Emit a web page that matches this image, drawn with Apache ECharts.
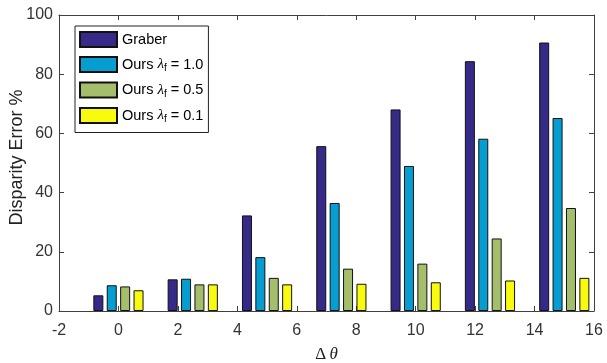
<!DOCTYPE html>
<html>
<head>
<meta charset="utf-8">
<script src="https://cdn.jsdelivr.net/npm/echarts@6/dist/echarts.min.js"></script>
<style>
html,body{margin:0;padding:0;background:#fff;}
#chart{width:607px;height:363px;}
</style>
</head>
<body>
<div id="chart"></div>
<script>
// ---- data ----
var deltaTheta = [0, 2.5, 5, 7.5, 10, 12.5, 15];
var seriesNames = ['Graber', 'Ours λf = 1.0', 'Ours λf = 0.5', 'Ours λf = 0.1'];
var graber = [5.3, 10.7, 32.3, 55.7, 68.1, 84.4, 90.7];
var ours10 = [8.7, 10.9, 18.2, 36.5, 49.0, 58.2, 65.2];
var ours05 = [8.3, 9.0, 11.2, 14.3, 16.0, 24.5, 34.8];
var ours01 = [7.0, 9.0, 9.0, 9.2, 9.7, 10.3, 11.2];
var xTicks = [-2, 0, 2, 4, 6, 8, 10, 12, 14, 16];
var yTicks = [0, 20, 40, 60, 80, 100];

var colors = ['#352a87', '#069dd1', '#a5be6b', '#f9fb0e'];
var values = [graber, ours10, ours05, ours01];

var chart = echarts.init(document.getElementById('chart'), null, {renderer: 'canvas'});

var axisColor = '#404040';
var labelColor = '#333333';
var font = 'Liberation Sans, Arial, Helvetica, sans-serif';

function pairs(v) { return deltaTheta.map(function (x, i) { return [x, v[i]]; }); }

var series = values.map(function (v, k) {
  return {
    name: seriesNames[k],
    type: 'bar',
    xAxisIndex: 0,
    yAxisIndex: 0,
    barWidth: 10,
    barGap: '34%',
    itemStyle: { color: colors[k], borderColor: '#111', borderWidth: 1 },
    data: pairs(v)
  };
});

var baseX = {
  type: 'value',
  min: xTicks[0],
  max: xTicks[xTicks.length - 1],
  interval: 2,
  axisLine: { show: true, onZero: false, lineStyle: { color: axisColor, width: 1 } },
  axisTick: { show: true, inside: true, length: 5, lineStyle: { color: axisColor } },
  splitLine: { show: false }
};
var baseY = {
  type: 'value',
  min: yTicks[0],
  max: yTicks[yTicks.length - 1],
  interval: 20,
  axisLine: { show: true, onZero: false, lineStyle: { color: axisColor, width: 1 } },
  axisTick: { show: true, inside: true, length: 5, lineStyle: { color: axisColor } },
  splitLine: { show: false }
};

var option = {
  animation: false,
  backgroundColor: '#fff',
  grid: { left: 59, right: 13, top: 15, bottom: 52, containLabel: false, outerBoundsMode: 'none' },
  legend: {
    orient: 'vertical',
    left: 75,
    top: 26,
    padding: [5, 5, 8, 4],
    itemGap: 8,
    itemWidth: 37,
    itemHeight: 15,
    icon: 'rect',
    backgroundColor: '#fff',
    borderColor: '#222',
    borderWidth: 1,
    borderRadius: 0,
    data: seriesNames,
    formatter: function (name) {
      if (name === 'Graber') return '{t|Graber}';
      var parts = name.split('λf');
      return '{t|' + parts[0] + '}{l|λ}{s|f}{t|' + parts[1] + '}';
    },
    textStyle: {
      fontFamily: font,
      fontSize: 14.5,
      color: '#000',
      rich: {
        t: { fontFamily: font, fontSize: 14.5, color: '#000', lineHeight: 18 },
        l: { fontFamily: 'Liberation Serif, serif', fontStyle: 'italic', fontSize: 15, color: '#000', lineHeight: 18 },
        s: { fontFamily: font, fontSize: 10, color: '#000', lineHeight: 10, verticalAlign: 'bottom' }
      }
    }
  },
  xAxis: [
    Object.assign({}, baseX, {
      position: 'bottom',
      axisLabel: { show: true, fontSize: 16, fontFamily: font, color: labelColor, margin: 12 },
      name: '{d|Δ} {t|θ}',
      nameLocation: 'middle',
      nameGap: 35,
      nameMoveOverlap: false,
      nameTextStyle: {
        rich: {
          d: { fontFamily: 'Liberation Serif, serif', fontSize: 17, color: '#222' },
          t: { fontFamily: 'Liberation Serif, serif', fontStyle: 'italic', fontSize: 17, color: '#222' }
        }
      }
    }),
    Object.assign({}, baseX, {
      position: 'top',
      axisLabel: { show: false }
    })
  ],
  yAxis: [
    Object.assign({}, baseY, {
      position: 'left',
      axisLabel: { show: true, fontSize: 16, fontFamily: font, color: labelColor, margin: 6 },
      name: 'Disparity Error %',
      nameLocation: 'middle',
      nameGap: 33,
      nameRotate: 90,
      nameMoveOverlap: false,
      nameTextStyle: { fontFamily: font, fontSize: 18, color: '#222', padding: [0, 0, 0, 11] }
    }),
    Object.assign({}, baseY, {
      position: 'right',
      axisLabel: { show: false }
    })
  ],
  series: series
};

chart.setOption(option);
</script>
</body>
</html>
